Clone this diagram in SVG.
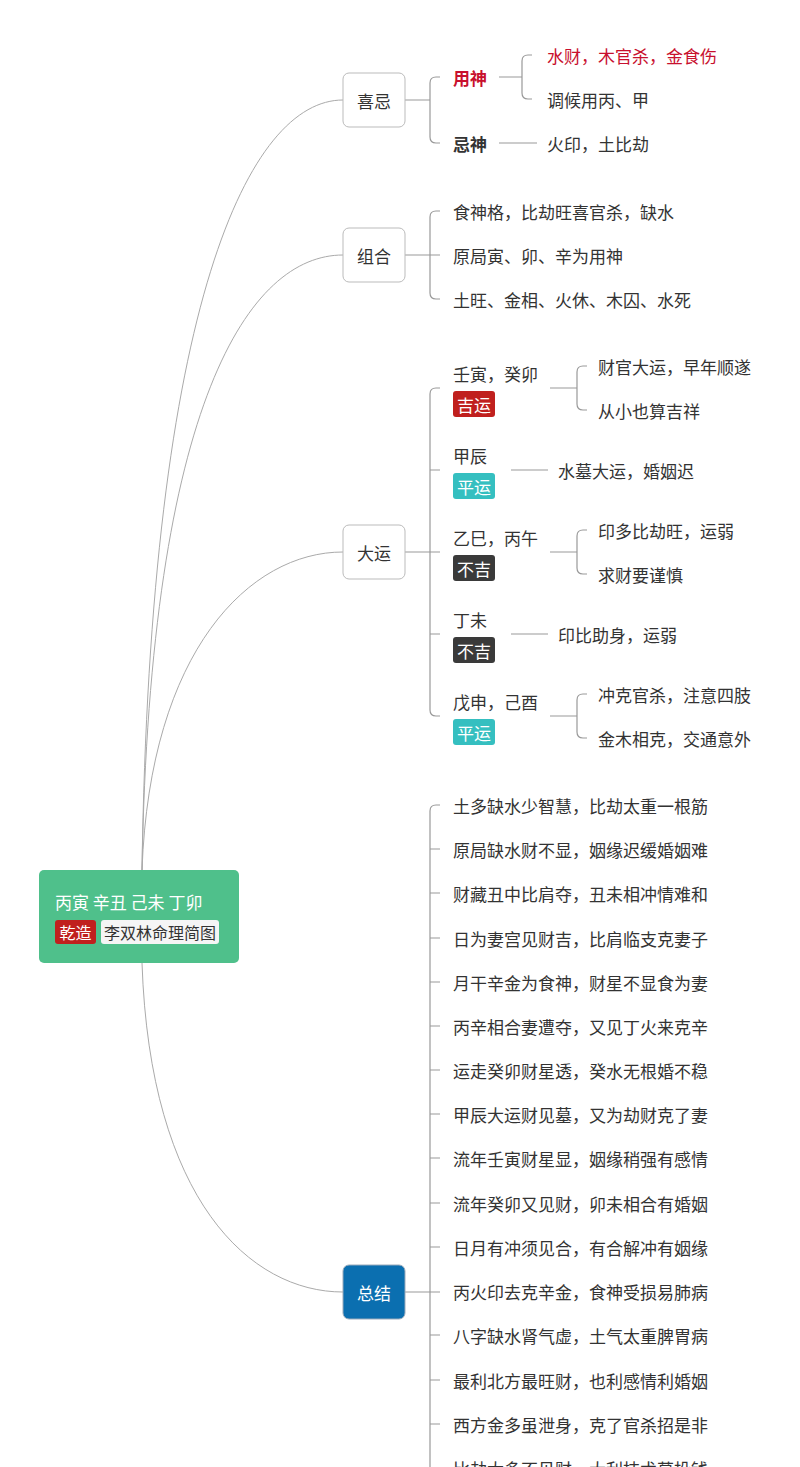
<svg xmlns="http://www.w3.org/2000/svg" width="800" height="1467" viewBox="0 0 800 1467">
<style>
text{font-family:"Noto Sans CJK SC","Noto Sans",sans-serif;font-size:17px;fill:#333;dominant-baseline:central}
.c{fill:none;stroke:#999;stroke-width:1.2}
.r{fill:none;stroke:#aaa;stroke-width:1}
.n{fill:#fff;stroke:#bbb;stroke-width:1}
.w{fill:#fff}
.red{fill:#c8102e}
.b{font-weight:bold}
</style>
<rect width="800" height="1467" fill="#fff"/>
<g id="connectors">
<path class="r" d="M142,870 C150,300 250,100 343,100"/>
<path class="r" d="M142,870 C150,400 250,255 343,255"/>
<path class="r" d="M142,870 C150,650 250,552 343,552"/>
<path class="r" d="M142,963 C150,1200 250,1292 343,1292"/>
<path class="c" d="M405,100H430M440,77H436Q430,77 430,83V137Q430,143 436,143H440"/>
<path class="c" d="M499,77H522M532,55H528Q522,55 522,61V93Q522,99 528,99H532"/>
<path class="c" d="M499,143H537"/>
<path class="c" d="M405,255H440M440,211H436Q430,211 430,217V293Q430,299 436,299H440"/>
<path class="c" d="M405,552H440M440,388H436Q430,388 430,394V710Q430,716 436,716H440M430,470H440M430,634H440"/>
<path class="c" d="M550,388H577M587,366H583Q577,366 577,372V404Q577,410 583,410H587"/>
<path class="c" d="M511,470H548"/>
<path class="c" d="M550,552H577M587,530H583Q577,530 577,536V568Q577,574 583,574H587"/>
<path class="c" d="M511,634H548"/>
<path class="c" d="M550,716H577M587,694H583Q577,694 577,700V732Q577,738 583,738H587"/>
<path class="c" d="M405,1292H440M440,805H436Q430,805 430,811V1480M430,849H440M430,893H440M430,938H440M430,982H440M430,1026H440M430,1070H440M430,1114H440M430,1158H440M430,1203H440M430,1247H440M430,1335H440M430,1380H440M430,1424H440M430,1468H440"/>
</g>
<g id="root">
<rect x="39" y="870" width="200" height="93" rx="5" fill="#4fc08b"/>
<text x="55" y="901" class="w">丙寅 辛丑 己未 丁卯</text>
<rect x="55" y="920" width="41" height="24" rx="3" fill="#c0201e"/>
<text x="75.5" y="932" class="w" text-anchor="middle" style="font-size:16px">乾造</text>
<rect x="101" y="920" width="118" height="24" rx="3" fill="#f5f5f5"/>
<text x="160" y="932" text-anchor="middle" style="font-size:16px">李双林命理简图</text>
</g>
<g id="xiji">
<rect class="n" x="343" y="73" width="62" height="54" rx="6"/>
<text x="374" y="100" text-anchor="middle">喜忌</text>
<text x="453" y="77" class="red b">用神</text>
<text x="547" y="55" class="red">水财，木官杀，金食伤</text>
<text x="547" y="99">调候用丙、甲</text>
<text x="453" y="143" class="b">忌神</text>
<text x="547" y="143">火印，土比劫</text>
</g>
<g id="zuhe">
<rect class="n" x="343" y="228" width="62" height="54" rx="6"/>
<text x="374" y="255" text-anchor="middle">组合</text>
<text x="453" y="211">食神格，比劫旺喜官杀，缺水</text>
<text x="453" y="255">原局寅、卯、辛为用神</text>
<text x="453" y="299">土旺、金相、火休、木囚、水死</text>
</g>
<g id="dayun">
<rect class="n" x="343" y="525" width="62" height="54" rx="6"/>
<text x="374" y="552" text-anchor="middle">大运</text>
<text x="453" y="373">壬寅，癸卯</text>
<rect x="453" y="391" width="42" height="26" rx="3" fill="#c0201e"/><text x="474" y="404" class="w" text-anchor="middle">吉运</text>
<text x="598" y="366">财官大运，早年顺遂</text>
<text x="598" y="410">从小也算吉祥</text>
<text x="453" y="455">甲辰</text>
<rect x="453" y="473" width="42" height="26" rx="3" fill="#35bfc0"/><text x="474" y="486" class="w" text-anchor="middle">平运</text>
<text x="558" y="470">水墓大运，婚姻迟</text>
<text x="453" y="537">乙巳，丙午</text>
<rect x="453" y="555" width="42" height="26" rx="3" fill="#3a3a3a"/><text x="474" y="568" class="w" text-anchor="middle">不吉</text>
<text x="598" y="530">印多比劫旺，运弱</text>
<text x="598" y="574">求财要谨慎</text>
<text x="453" y="619">丁未</text>
<rect x="453" y="637" width="42" height="26" rx="3" fill="#3a3a3a"/><text x="474" y="650" class="w" text-anchor="middle">不吉</text>
<text x="558" y="634">印比助身，运弱</text>
<text x="453" y="701">戊申，己酉</text>
<rect x="453" y="719" width="42" height="26" rx="3" fill="#35bfc0"/><text x="474" y="732" class="w" text-anchor="middle">平运</text>
<text x="598" y="694">冲克官杀，注意四肢</text>
<text x="598" y="738">金木相克，交通意外</text>
</g>
<g id="zongjie">
<rect x="343" y="1265" width="62" height="54" rx="6" fill="#0b6fb0" stroke="#9ab" stroke-width="1"/>
<text x="374" y="1292" class="w" text-anchor="middle">总结</text>
<text x="453" y="805">土多缺水少智慧，比劫太重一根筋</text>
<text x="453" y="849">原局缺水财不显，姻缘迟缓婚姻难</text>
<text x="453" y="893">财藏丑中比肩夺，丑未相冲情难和</text>
<text x="453" y="938">日为妻宫见财吉，比肩临支克妻子</text>
<text x="453" y="982">月干辛金为食神，财星不显食为妻</text>
<text x="453" y="1026">丙辛相合妻遭夺，又见丁火来克辛</text>
<text x="453" y="1070">运走癸卯财星透，癸水无根婚不稳</text>
<text x="453" y="1114">甲辰大运财见墓，又为劫财克了妻</text>
<text x="453" y="1158">流年壬寅财星显，姻缘稍强有感情</text>
<text x="453" y="1203">流年癸卯又见财，卯未相合有婚姻</text>
<text x="453" y="1247">日月有冲须见合，有合解冲有姻缘</text>
<text x="453" y="1291">丙火印去克辛金，食神受损易肺病</text>
<text x="453" y="1335">八字缺水肾气虚，土气太重脾胃病</text>
<text x="453" y="1380">最利北方最旺财，也利感情利婚姻</text>
<text x="453" y="1424">西方金多虽泄身，克了官杀招是非</text>
<text x="453" y="1468">比劫太多不见财，大利技术莫投钱</text>
</g>
</svg>
